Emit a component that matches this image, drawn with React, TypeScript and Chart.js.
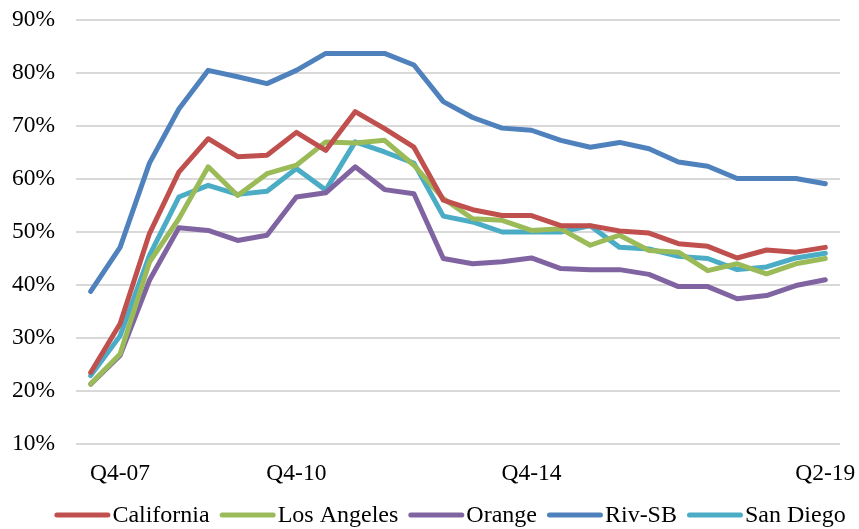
import React, { useEffect, useRef } from "react";
import { Chart, registerables } from "chart.js";

Chart.register(...registerables);

const categories: string[] = [
  "", "Q4-07", "", "", "", "", "", "Q4-10", "", "", "", "", "", "",
  "", "Q4-14", "", "", "", "", "", "", "", "", "", "Q2-19",
];

const california = [23.5, 32.7, 49.7, 61.3, 67.6, 64.2, 64.5, 68.8, 65.4, 72.7, 69.5, 66.0, 56.0, 54.2, 53.1, 53.1, 51.2, 51.2, 50.2, 49.8, 47.8, 47.3, 45.1, 46.6, 46.2, 47.1];
const losAngeles = [21.3, 27.0, 44.3, 52.5, 62.3, 56.9, 61.0, 62.6, 67.0, 66.8, 67.3, 62.6, 56.3, 52.5, 52.2, 50.3, 50.6, 47.5, 49.4, 46.5, 46.2, 42.7, 44.0, 42.1, 44.0, 45.0];
const orange = [21.3, 26.7, 40.9, 50.8, 50.3, 48.4, 49.4, 56.6, 57.4, 62.3, 58.0, 57.2, 45.0, 44.0, 44.4, 45.1, 43.1, 42.9, 42.9, 42.0, 39.7, 39.7, 37.4, 38.0, 39.9, 41.0];
const rivSB = [38.8, 47.1, 63.0, 73.2, 80.5, 79.3, 78.0, 80.5, 83.7, 83.7, 83.7, 81.5, 74.6, 71.6, 69.6, 69.2, 67.3, 66.0, 66.9, 65.7, 63.2, 62.4, 60.1, 60.1, 60.1, 59.1];
const sanDiego = [22.9, 30.4, 45.6, 56.6, 58.8, 57.1, 57.7, 62.0, 57.9, 67.0, 65.1, 63.0, 53.0, 51.9, 50.0, 50.0, 50.0, 51.2, 47.1, 46.8, 45.4, 45.0, 42.9, 43.4, 45.1, 46.0];

const seriesNames = ["California", "Los Angeles", "Orange", "Riv-SB", "San Diego"];
const seriesColors = ["#C0504D", "#9BBB59", "#8064A2", "#4F81BD", "#4BACC6"];
const seriesValues = [california, losAngeles, orange, rivSB, sanDiego];

const yMin = 10;
const yMax = 90;
const yStep = 10;

const FAMILY = "'Liberation Serif', 'Times New Roman', serif";
const LEGEND_FONT_SIZE = 24;
const LEGEND_LINE_LEN = 56;
const LEGEND_TEXT_GAP = 2;
const LEGEND_ITEM_GAP = 10;
const LEGEND_CENTER_X = 450;
const LEGEND_Y = 515;

const lineLegend = {
  id: "lineLegend",
  afterDraw(chart: any) {
    const ctx: CanvasRenderingContext2D = chart.ctx;
    ctx.save();
    ctx.font = `${LEGEND_FONT_SIZE}px ${FAMILY}`;
    const items = chart.data.datasets.map((ds: any) => ({
      label: ds.label as string,
      color: ds.borderColor as string,
      w: ctx.measureText(ds.label).width,
    }));
    const total =
      items.reduce((s: number, it: any) => s + LEGEND_LINE_LEN + LEGEND_TEXT_GAP + it.w, 0) +
      LEGEND_ITEM_GAP * (items.length - 1);
    let x = LEGEND_CENTER_X - total / 2;
    ctx.textBaseline = "middle";
    ctx.textAlign = "left";
    for (const it of items) {
      ctx.strokeStyle = it.color;
      ctx.lineWidth = 5;
      ctx.lineCap = "round";
      ctx.beginPath();
      ctx.moveTo(x + 2.5, LEGEND_Y);
      ctx.lineTo(x + LEGEND_LINE_LEN - 2.5, LEGEND_Y);
      ctx.stroke();
      ctx.fillStyle = "#000";
      ctx.fillText(it.label, x + LEGEND_LINE_LEN + LEGEND_TEXT_GAP, LEGEND_Y + 1);
      x += LEGEND_LINE_LEN + LEGEND_TEXT_GAP + it.w + LEGEND_ITEM_GAP;
    }
    ctx.restore();
  },
};

export default function App() {
  const ref = useRef<HTMLCanvasElement>(null);

  useEffect(() => {
    document.body.style.margin = "0";
    const canvas = ref.current;
    if (!canvas) return;
    const tickFont = { family: FAMILY, size: 23.5, lineHeight: 1 };
    const chart = new Chart(canvas, {
      type: "line",
      data: {
        labels: categories,
        datasets: seriesNames.map((name, i) => ({
          label: name,
          data: seriesValues[i],
          borderColor: seriesColors[i],
          backgroundColor: seriesColors[i],
          borderWidth: 5,
          borderCapStyle: "round" as const,
          borderJoinStyle: "round" as const,
          pointRadius: 0,
          pointHoverRadius: 0,
          tension: 0,
          fill: false,
        })),
      },
      plugins: [lineLegend],
      options: {
        responsive: false,
        animation: false,
        layout: { padding: { left: 0, right: 19, top: 20, bottom: 25.5 } },
        plugins: {
          tooltip: { enabled: false },
          legend: { display: false },
        },
        scales: {
          x: {
            type: "category",
            offset: true,
            grid: { display: false, drawTicks: false },
            border: { display: false },
            ticks: {
              font: tickFont,
              color: "#000",
              autoSkip: false,
              maxRotation: 0,
              minRotation: 0,
              padding: 18,
            },
            afterFit: (scale: any) => {
              scale.paddingRight = 0;
              scale.paddingLeft = 0;
            },
          },
          y: {
            min: yMin,
            max: yMax,
            grid: { color: "#D9D9D9", lineWidth: 2, drawTicks: false },
            border: { display: false },
            ticks: {
              font: tickFont,
              color: "#000",
              stepSize: yStep,
              padding: 21,
              callback: (v: any) => `${v}%`,
            },
            afterFit: (scale: any) => {
              scale.width = 76;
              scale.paddingTop = 0;
              scale.paddingBottom = 0;
            },
          },
        },
      },
    });
    return () => chart.destroy();
  }, []);

  return (
    <div style={{ width: 859, height: 529, position: "relative" }}>
      <canvas ref={ref} width={859} height={529} style={{ display: "block" }} />
    </div>
  );
}
